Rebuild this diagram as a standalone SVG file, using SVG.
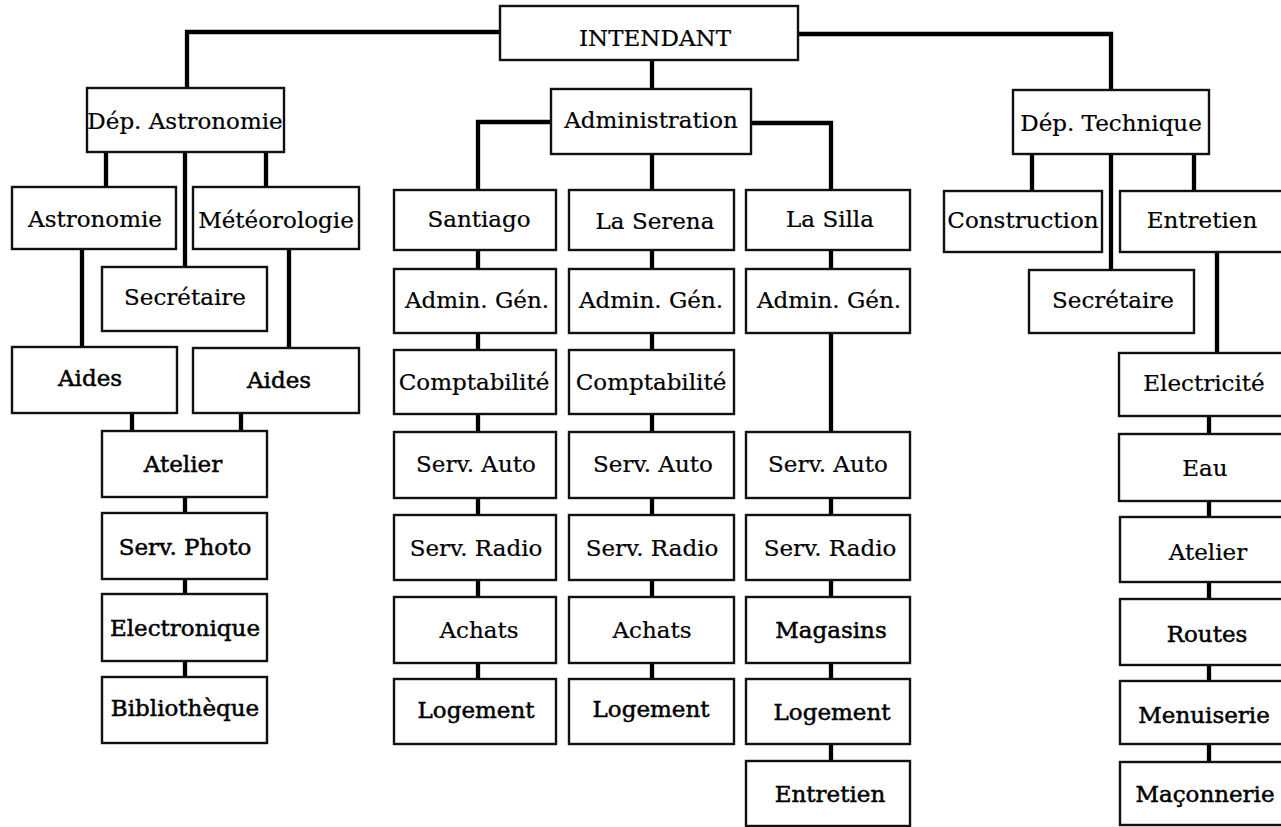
<svg xmlns="http://www.w3.org/2000/svg" width="1281" height="827" viewBox="0 0 1281 827">
<style>
.b{fill:#fff;stroke:#111;stroke-width:2.4}
.c{fill:none;stroke:#000;stroke-width:4.3;stroke-linejoin:miter}
text{font-family:"DejaVu Serif","Liberation Serif",serif;font-size:23px;fill:#000;text-anchor:middle;stroke:#000;stroke-width:0.2}
.h{stroke-width:0.5}
</style>
<rect width="1281" height="827" fill="#fff"/>
<g id="connectors">
<path class="c" d="M500,32 H187 V88 M798,34 H1111 V90 M652,60 V89 M551,122 H478 V190 M751,123 H831 V190 M652,154 V190"/>
<path class="c" d="M106,152 V187 M185,152 V267 M266,152 V187 M82,249 V347 M289,249 V348 M132,413 V431 M241,413 V431 M185,497 V513 M185,579 V594 M185,661 V677"/>
<path class="c" d="M478,250 V269 M478,333 V350 M478,414 V432 M478,498 V515 M478,580 V597 M478,663 V679"/>
<path class="c" d="M652,250 V269 M652,333 V350 M652,414 V432 M652,498 V515 M652,580 V597 M652,663 V679"/>
<path class="c" d="M831,250 V269 M831,333 V432 M831,498 V515 M831,580 V597 M831,663 V679 M831,744 V761"/>
<path class="c" d="M1032,154 V191 M1111,154 V270 M1194,154 V191 M1217,252 V353 M1209,416 V434 M1209,501 V517 M1209,582 V599 M1209,665 V681 M1209,744 V762"/>
</g>
<g id="intendant"><rect class="b" x="500" y="6" width="298" height="54"/><text x="655" y="46">INTENDANT</text></g>
<g id="dep-astronomie"><rect class="b" x="87" y="88" width="197" height="64"/><text x="185" y="129">Dép. Astronomie</text></g>
<g id="administration"><rect class="b" x="551" y="89" width="200" height="65"/><text x="651" y="128">Administration</text></g>
<g id="dep-technique"><rect class="b" x="1013" y="90" width="196" height="64"/><text x="1111" y="131">Dép. Technique</text></g>

<g id="astronomie"><rect class="b" x="12" y="187" width="164" height="62"/><text x="95" y="227">Astronomie</text></g>
<g id="meteorologie"><rect class="b" x="193" y="187" width="166" height="62"/><text x="276" y="228">Météorologie</text></g>
<g id="secretaire-astro"><rect class="b" x="102" y="267" width="165" height="64"/><text x="185" y="305">Secrétaire</text></g>
<g id="aides-astro"><rect class="b" x="12" y="347" width="165" height="66"/><text class="h" x="90" y="386">Aides</text></g>
<g id="aides-meteo"><rect class="b" x="193" y="348" width="166" height="65"/><text class="h" x="279" y="388">Aides</text></g>
<g id="atelier-astro"><rect class="b" x="102" y="431" width="165" height="66"/><text class="h" x="183" y="472">Atelier</text></g>
<g id="serv-photo"><rect class="b" x="102" y="513" width="165" height="66"/><text class="h" x="185" y="555">Serv. Photo</text></g>
<g id="electronique"><rect class="b" x="102" y="594" width="165" height="67"/><text class="h" x="185" y="636">Electronique</text></g>
<g id="bibliotheque"><rect class="b" x="102" y="677" width="165" height="66"/><text class="h" x="185" y="716">Bibliothèque</text></g>

<g id="santiago"><rect class="b" x="394" y="190" width="162" height="60"/><text x="479" y="227">Santiago</text></g>
<g id="santiago-admin"><rect class="b" x="394" y="269" width="162" height="64"/><text x="477" y="308">Admin. Gén.</text></g>
<g id="santiago-compta"><rect class="b" x="394" y="350" width="162" height="64"/><text x="474" y="390">Comptabilité</text></g>
<g id="santiago-auto"><rect class="b" x="394" y="432" width="162" height="66"/><text x="476" y="472">Serv. Auto</text></g>
<g id="santiago-radio"><rect class="b" x="394" y="515" width="162" height="65"/><text x="476" y="556">Serv. Radio</text></g>
<g id="santiago-achats"><rect class="b" x="394" y="597" width="162" height="66"/><text x="479" y="638">Achats</text></g>
<g id="santiago-logement"><rect class="b" x="394" y="679" width="162" height="65"/><text class="h" x="476" y="718">Logement</text></g>

<g id="laserena"><rect class="b" x="569" y="190" width="165" height="60"/><text x="655" y="229">La Serena</text></g>
<g id="laserena-admin"><rect class="b" x="569" y="269" width="165" height="64"/><text x="651" y="308">Admin. Gén.</text></g>
<g id="laserena-compta"><rect class="b" x="569" y="350" width="165" height="64"/><text x="651" y="390">Comptabilité</text></g>
<g id="laserena-auto"><rect class="b" x="569" y="432" width="165" height="66"/><text x="653" y="472">Serv. Auto</text></g>
<g id="laserena-radio"><rect class="b" x="569" y="515" width="165" height="65"/><text x="652" y="556">Serv. Radio</text></g>
<g id="laserena-achats"><rect class="b" x="569" y="597" width="165" height="66"/><text x="652" y="638">Achats</text></g>
<g id="laserena-logement"><rect class="b" x="569" y="679" width="165" height="65"/><text class="h" x="651" y="717">Logement</text></g>

<g id="lasilla"><rect class="b" x="746" y="190" width="164" height="60"/><text x="830" y="227">La Silla</text></g>
<g id="lasilla-admin"><rect class="b" x="746" y="269" width="164" height="64"/><text x="829" y="308">Admin. Gén.</text></g>
<g id="lasilla-auto"><rect class="b" x="746" y="432" width="164" height="66"/><text x="828" y="472">Serv. Auto</text></g>
<g id="lasilla-radio"><rect class="b" x="746" y="515" width="164" height="65"/><text x="830" y="556">Serv. Radio</text></g>
<g id="lasilla-magasins"><rect class="b" x="746" y="597" width="164" height="66"/><text class="h" x="831" y="638">Magasins</text></g>
<g id="lasilla-logement"><rect class="b" x="746" y="679" width="164" height="65"/><text class="h" x="832" y="720">Logement</text></g>
<g id="lasilla-entretien"><rect class="b" x="746" y="761" width="164" height="65"/><text class="h" x="830" y="802">Entretien</text></g>

<g id="construction"><rect class="b" x="944" y="191" width="158" height="61"/><text x="1023" y="228">Construction</text></g>
<g id="entretien"><rect class="b" x="1120" y="191" width="170" height="61"/><text x="1202" y="228">Entretien</text></g>
<g id="secretaire-tech"><rect class="b" x="1029" y="270" width="165" height="63"/><text x="1113" y="308">Secrétaire</text></g>
<g id="electricite"><rect class="b" x="1119" y="353" width="171" height="63"/><text x="1204" y="391">Electricité</text></g>
<g id="eau"><rect class="b" x="1119" y="434" width="171" height="67"/><text x="1205" y="476">Eau</text></g>
<g id="atelier-tech"><rect class="b" x="1120" y="517" width="170" height="65"/><text x="1208" y="560">Atelier</text></g>
<g id="routes"><rect class="b" x="1120" y="599" width="170" height="66"/><text class="h" x="1207" y="642">Routes</text></g>
<g id="menuiserie"><rect class="b" x="1120" y="681" width="170" height="63"/><text class="h" x="1204" y="723">Menuiserie</text></g>
<g id="maconnerie"><rect class="b" x="1120" y="762" width="170" height="63"/><text class="h" x="1205" y="802">Maçonnerie</text></g>
</svg>
